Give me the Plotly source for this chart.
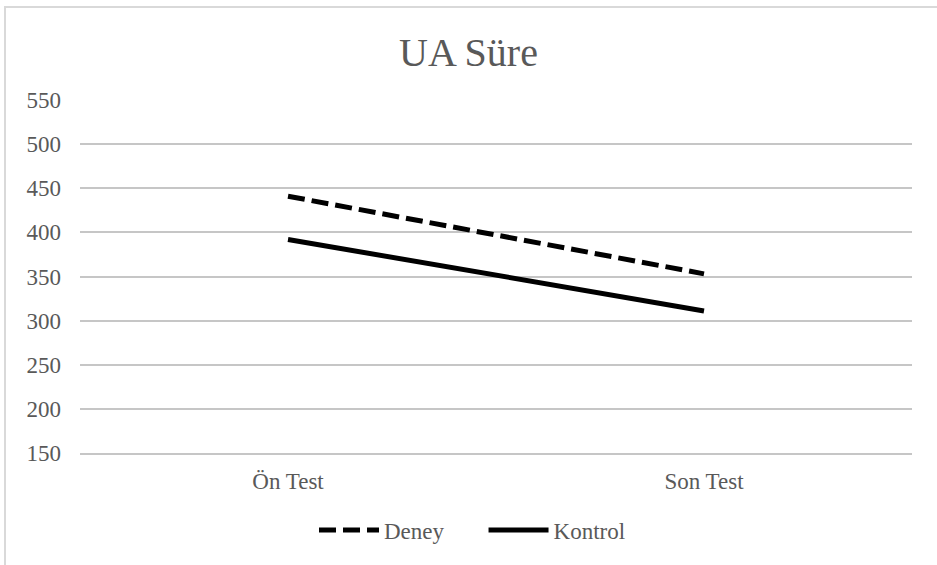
import plotly.graph_objects as go

categories = ["Ön Test", "Son Test"]
deney = [441, 353]
kontrol = [392, 311]
y_ticks = [150, 200, 250, 300, 350, 400, 450, 500, 550]

FONT = "Liberation Serif, Times New Roman, serif"
TEXT_GRAY = "#595959"
GRID = "#c6c6c6"

fig = go.Figure()
fig.add_trace(go.Scatter(
    x=categories, y=deney, name="Deney" + "\u00a0" * 6, mode="lines",
    line=dict(color="black", width=5, dash="17px,7px"),
))
fig.add_trace(go.Scatter(
    x=categories, y=kontrol, name="Kontrol", mode="lines",
    line=dict(color="black", width=5),
))

W, H = 937, 565
ml, mr, mt, mb = 80, 25, 100, 112
pw, ph = W - ml - mr, H - mt - mb

# light chart-area frame, clipped on the right and bottom
fig.add_shape(
    type="rect", xref="paper", yref="paper",
    x0=(5 - ml) / pw, x1=(W + 20 - ml) / pw,
    y0=(H - mb - (H + 20)) / ph, y1=(H - mb - 7) / ph,
    line=dict(color="#d9d9d9", width=2), layer="below",
)

fig.update_layout(
    width=W, height=H,
    margin=dict(l=ml, r=mr, t=mt, b=mb),
    paper_bgcolor="white", plot_bgcolor="white",
    font=dict(family=FONT, size=23, color=TEXT_GRAY),
    title=dict(text="UA Süre", x=0.5, xanchor="center", y=1 - 52 / H, yanchor="middle",
               font=dict(family=FONT, size=40, color=TEXT_GRAY)),
    xaxis=dict(type="category", range=[-0.5, 1.5], showgrid=False, zeroline=False,
               showline=True, linecolor=GRID, linewidth=1.5, ticks="",
               ticklabelstandoff=7,
               tickfont=dict(family=FONT, size=23, color=TEXT_GRAY)),
    yaxis=dict(range=[150, 550], tickvals=y_ticks, showgrid=True, gridcolor=GRID,
               gridwidth=1.5, zeroline=False, showline=False, ticks="",
               ticklabelstandoff=18,
               tickfont=dict(family=FONT, size=23, color=TEXT_GRAY)),
    showlegend=True,
    legend=dict(orientation="h", x=(322 - 8 - ml) / pw, xanchor="left",
                y=-(530 - (H - mb)) / ph,
                yanchor="middle", font=dict(family=FONT, size=23, color=TEXT_GRAY),
                itemwidth=60, bgcolor="rgba(0,0,0,0)"),
)

fig.write_html("out.html")
